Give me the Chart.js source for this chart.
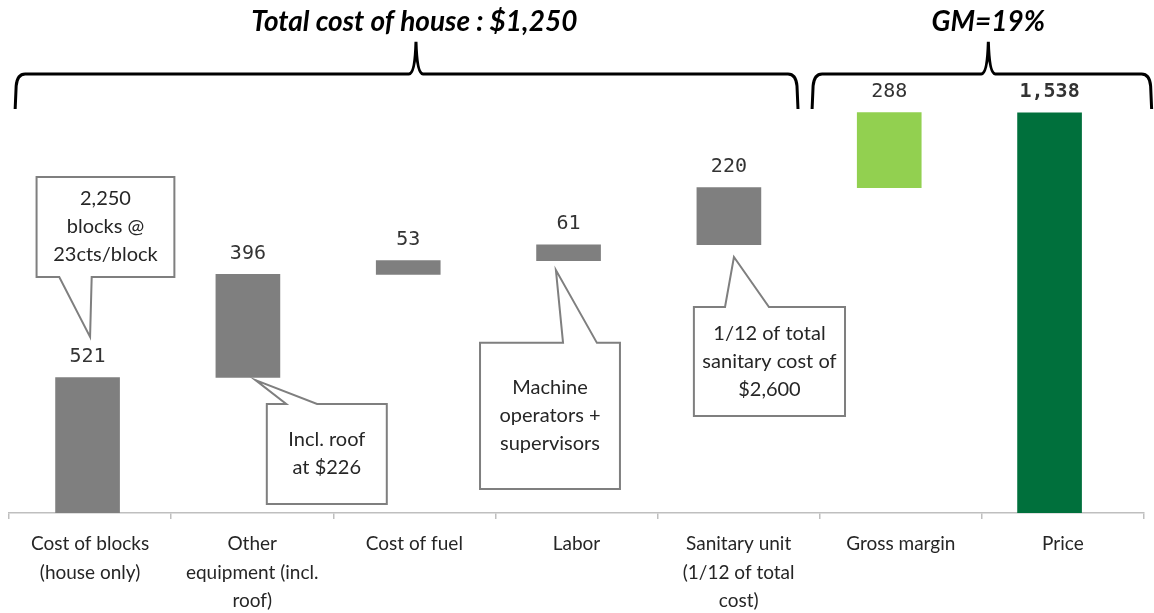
<!DOCTYPE html>
<html>
<head>
<meta charset="utf-8">
<script src="https://cdn.jsdelivr.net/npm/chart.js@4.4.0/dist/chart.umd.min.js"></script>
<style>
    html, body { margin: 0; padding: 0; background: #fff; }
    #wrap { width: 1154px; height: 613px; }
</style>
</head>
<body>
<div id="wrap"><canvas id="waterfall" width="1154" height="613"></canvas></div>
<script>
// chart data
const categories = [
    ['Cost of blocks', '(house only)'],
    ['Other', 'equipment (incl.', 'roof)'],
    ['Cost of fuel'],
    ['Labor'],
    ['Sanitary unit', '(1/12 of total', 'cost)'],
    ['Gross margin'],
    ['Price']
];
const stepValues = [521, 396, 53, 61, 220, 288, 1538];
const isTotal = [false, false, false, false, false, false, true];
const valueLabels = ['521', '396', '53', '61', '220', '288', '1,538'];
const barColors = ['#7f7f7f', '#7f7f7f', '#7f7f7f', '#7f7f7f', '#7f7f7f', '#92d050', '#00703c'];

// callouts: box and tail in data units (x = category index on the label axis, y = value)
const callouts = [
    { lines: ['2,250', 'blocks @', '23cts/block'], x0: -0.33, x1: 0.52, yTop: 1292, yBot: 907,
      edge: 'bottom', tail: [-0.19, 0.01], tip: [0.0, 677] },
    { lines: ['Incl. roof', 'at $226'], x0: 1.09, x1: 1.83, yTop: 419, yBot: 35,
      edge: 'top', tail: [1.21, 1.40], tip: [1.02, 511] },
    { lines: ['Machine', 'operators +', 'supervisors'], x0: 2.405, x1: 3.268, yTop: 654, yBot: 92,
      edge: 'top', tail: [2.917, 3.126], tip: [2.873, 934] },
    { lines: ['1/12 of total', 'sanitary cost of', '$2,600'], x0: 3.724, x1: 4.656, yTop: 792, yBot: 373,
      edge: 'top', tail: [3.916, 4.187], tip: [3.971, 984] }
];

// braces above the bars, with their titles
const braces = [
    { from: -0.462, to: 4.366, peak: 2.01, title: 'Total cost of house : $1,250', titleX: 2.0 },
    { from: 4.453, to: 6.547, peak: 5.54, title: 'GM=19%', titleX: 5.54 }
];
const braceLevels = { bottom: 1553, line: 1688, peak: 1811, title: 1886 };

// build floating ranges
let running = 0;
const ranges = stepValues.map((v, i) => {
    if (isTotal[i]) return { x: i, y: [0, v] };
    const r = { x: i, y: [running, running + v] };
    running += v;
    return r;
});

const overlayPlugin = {
    id: 'overlay',
    afterDatasetsDraw(chart) {
        const ctx = chart.ctx;
        const xs = chart.scales.xl;
        const ys = chart.scales.y;
        const px = (i) => xs.getPixelForValue(0) + i * (xs.getPixelForValue(1) - xs.getPixelForValue(0));
        const py = (v) => ys.getPixelForValue(v);
        const bars = chart.getDatasetMeta(0).data;

        ctx.save();

        // value labels above bars
        ctx.textAlign = 'center';
        ctx.textBaseline = 'middle';
        ctx.fillStyle = '#333333';
        ranges.forEach((r, i) => {
            ctx.font = (isTotal[i] ? 'bold ' : '') + '20px "DejaVu Sans Mono"';
            ctx.fillText(valueLabels[i], bars[i].x, py(r.y[1]) - 21);
        });

        // callouts
        callouts.forEach(c => {
            const x0 = px(c.x0), x1 = px(c.x1), y0 = py(c.yTop), y1 = py(c.yBot);
            const t0 = px(c.tail[0]), t1 = px(c.tail[1]);
            const tx = px(c.tip[0]), ty = py(c.tip[1]);
            ctx.beginPath();
            if (c.edge === 'bottom') {
                ctx.moveTo(x0, y0);
                ctx.lineTo(x1, y0);
                ctx.lineTo(x1, y1);
                ctx.lineTo(t1, y1);
                ctx.lineTo(tx, ty);
                ctx.lineTo(t0, y1);
                ctx.lineTo(x0, y1);
            } else {
                ctx.moveTo(x0, y0);
                ctx.lineTo(t0, y0);
                ctx.lineTo(tx, ty);
                ctx.lineTo(t1, y0);
                ctx.lineTo(x1, y0);
                ctx.lineTo(x1, y1);
                ctx.lineTo(x0, y1);
            }
            ctx.closePath();
            ctx.fillStyle = '#ffffff';
            ctx.fill();
            ctx.lineWidth = 2;
            ctx.strokeStyle = '#7f7f7f';
            ctx.lineJoin = 'miter';
            ctx.stroke();

            ctx.fillStyle = '#262626';
            ctx.font = '20px Lato';
            const lh = 28;
            const cy = (y0 + y1) / 2;
            const cx = (x0 + x1) / 2;
            c.lines.forEach((line, k) => {
                ctx.fillText(line, cx, cy + (k - (c.lines.length - 1) / 2) * lh);
            });
        });

        // braces
        ctx.strokeStyle = '#000000';
        ctx.lineWidth = 3;
        ctx.lineCap = 'butt';
        const yb = py(braceLevels.bottom), yh = py(braceLevels.line), yp = py(braceLevels.peak);
        braces.forEach(b => {
            const xl = px(b.from), xr = px(b.to), xp = px(b.peak);
            ctx.beginPath();
            ctx.moveTo(xl, yb);
            ctx.lineTo(xl + 1, yh + 12);
            ctx.quadraticCurveTo(xl + 2, yh, xl + 10, yh);
            ctx.lineTo(xp - 7, yh);
            ctx.quadraticCurveTo(xp - 1, yh, xp, yp);
            ctx.quadraticCurveTo(xp + 1, yh, xp + 7, yh);
            ctx.lineTo(xr - 10, yh);
            ctx.quadraticCurveTo(xr - 2, yh, xr - 1, yh + 12);
            ctx.lineTo(xr, yb);
            ctx.stroke();

            ctx.fillStyle = '#000000';
            ctx.font = 'italic bold 28px Lato';
            ctx.fillText(b.title, px(b.titleX), py(braceLevels.title));
        });

        ctx.restore();
    }
};

new Chart(document.getElementById('waterfall'), {
    type: 'bar',
    data: {
        labels: categories,
        datasets: [{
            data: ranges,
            xAxisID: 'x',
            backgroundColor: barColors,
            borderWidth: 0,
            borderSkipped: false,
            barThickness: 64
        }]
    },
    options: {
        responsive: false,
        animation: false,
        parsing: { xAxisKey: 'x', yAxisKey: 'y' },
        layout: { padding: { left: 9, right: 10, top: 0, bottom: 0 } },
        plugins: {
            legend: { display: false },
            tooltip: { enabled: false }
        },
        scales: {
            // bars sit on a slightly tighter pitch than the label slots, as in the source
            x: {
                type: 'linear',
                display: false,
                offset: false,
                bounds: 'data',
                min: -0.49,
                max: 6.589
            },
            xl: {
                type: 'category',
                position: 'bottom',
                labels: categories,
                offset: true,
                grid: {
                    offset: true,
                    drawOnChartArea: false,
                    drawTicks: true,
                    tickLength: 6,
                    color: '#bfbfbf',
                    lineWidth: 1.5
                },
                border: { color: '#bfbfbf', width: 1.5 },
                ticks: {
                    color: '#262626',
                    font: { family: 'Lato', size: 19, lineHeight: 1.5 },
                    maxRotation: 0,
                    autoSkip: false,
                    padding: 11
                },
                afterFit(scale) { scale.height = 100; }
            },
            y: {
                display: false,
                min: 0,
                max: 1972
            }
        }
    },
    plugins: [overlayPlugin]
});
</script>
</body>
</html>
